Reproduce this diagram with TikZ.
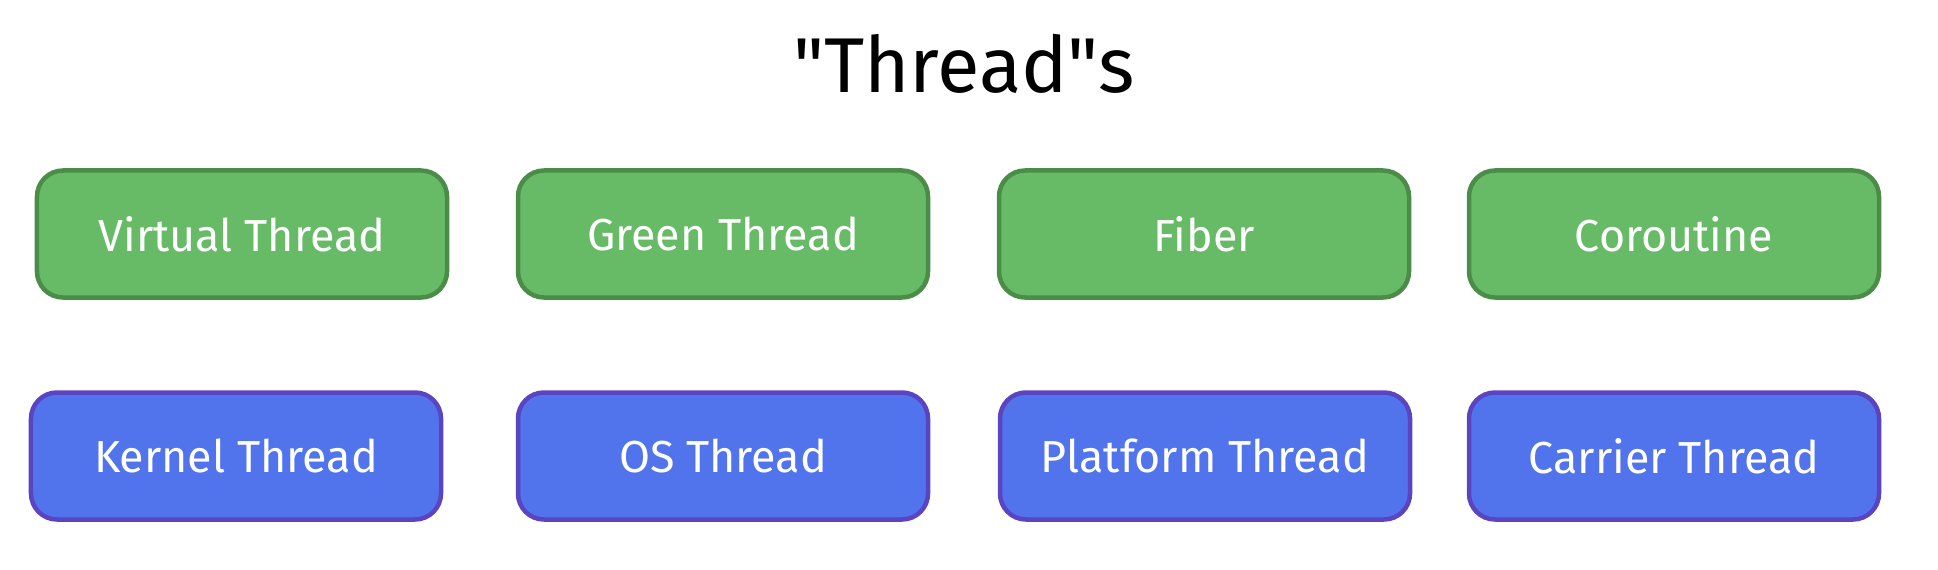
\documentclass[tikz,border=0pt]{standalone}
\usepackage{fontspec}
\setmainfont{Fira Sans}
\definecolor{gfill}{HTML}{67BB66}
\definecolor{gline}{HTML}{4A8C48}
\definecolor{bfill}{HTML}{5174EC}
\definecolor{bline}{HTML}{5B44C2}
\begin{document}
\begin{tikzpicture}[x=1bp,y=-1bp,
  card/.style={draw, rounded corners=26bp, line width=4.5bp, minimum width=410bp, minimum height=127bp, inner sep=0pt, text=white, font=\fontsize{45}{54}\selectfont},
  greencard/.style={card, fill=gfill, draw=gline},
  bluecard/.style={card, fill=bfill, draw=bline},
  title/.style={font=\fontsize{78}{94}\selectfont, text=black}]
\useasboundingbox (0,0) rectangle (1938,570);
\node[title] (t) at (964,64) {\textquotedbl Thread\textquotedbl s};
\node[greencard] (g1) at (242,234) {Virtual Thread};
\node[greencard] (g2) at (723,234) {Green Thread};
\node[greencard] (g3) at (1204,234) {Fiber};
\node[greencard] (g4) at (1674,234) {Coroutine};
\node[bluecard] (b1) at (236,456) {Kernel Thread};
\node[bluecard] (b2) at (723,456) {OS Thread};
\node[bluecard] (b3) at (1205,456) {Platform Thread};
\node[bluecard] (b4) at (1674,456) {Carrier Thread};
\end{tikzpicture}
\end{document}
